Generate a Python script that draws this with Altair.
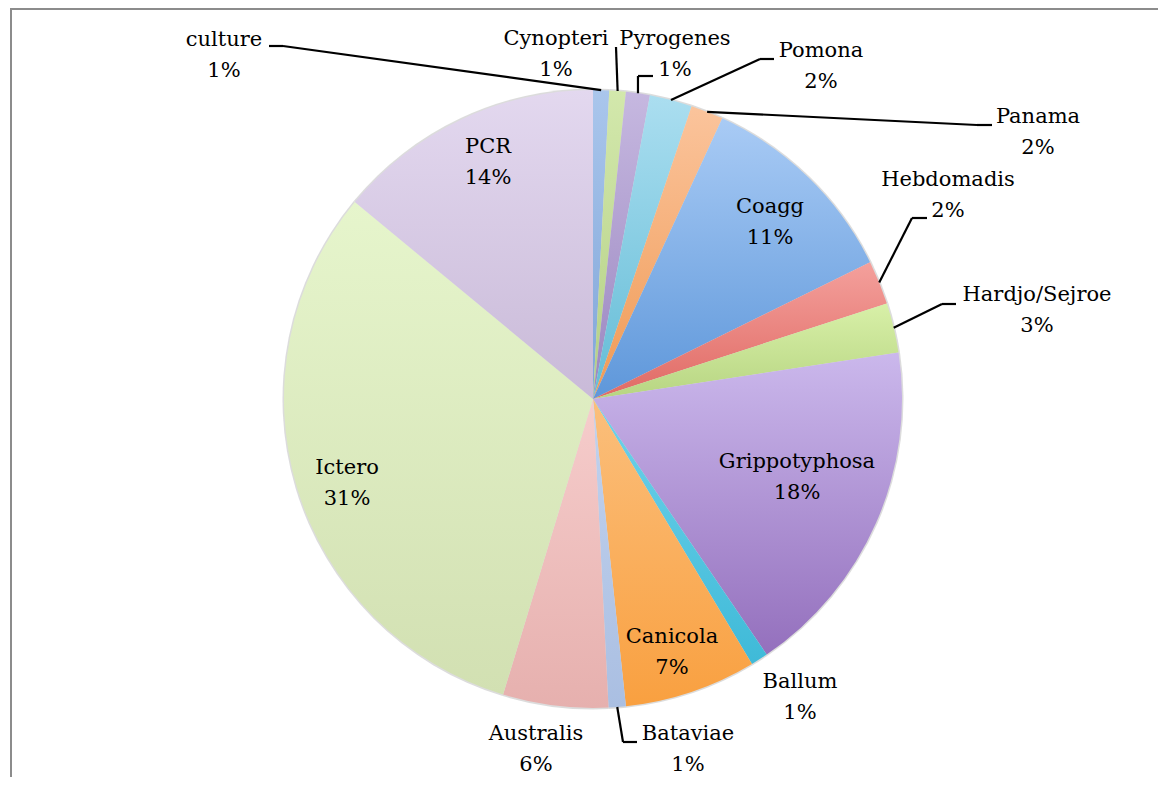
import altair as alt
import pandas as pd

# ---------------- data ----------------
categories = ["culture", "Cynopteri", "Pyrogenes", "Pomona", "Panama", "Coagg",
              "Hebdomadis", "Hardjo/Sejroe", "Grippotyphosa", "Ballum", "Canicola",
              "Bataviae", "Australis", "Ictero", "PCR"]
values = [0.84, 0.86, 1.25, 2.22, 1.70, 10.83, 2.3, 2.6, 17.9, 0.9, 6.9, 0.9, 5.5, 31.3, 14.0]
pct_labels = ["1%", "1%", "1%", "2%", "2%", "11%", "2%", "3%", "18%", "1%", "7%",
              "1%", "6%", "31%", "14%"]

# ---------------- style ----------------
top_colors = ["#aac6ec", "#d3e8ac", "#c6b8e0", "#abdef0", "#fbc49c", "#a9cbf5",
              "#f4a09c", "#d8f0a8", "#cbb8ec", "#6fd2ea", "#fbbf7c", "#c2d2ee",
              "#f6cdcc", "#e6f5cc", "#e3d8ef"]
bottom_colors = ["#7fa5d8", "#b3cf85", "#9a86c0", "#63bcd6", "#ef9a55", "#5e97da",
                 "#e06a64", "#b7d582", "#9470bd", "#3fbad8", "#f9a040", "#aabfe2",
                 "#e6b0ae", "#d2e0b2", "#c9bad8"]

# ---------------- layout (px, relative to pie centre) ----------------
W, H = 1150, 769
CX, CY, R = 585, 391, 309
label_dx = [-369, -37, 82, 228, 445, 177, 355, 444, 204, 207, 79, 95, -57, -246, -105]
label_dy = [-344, -345, -345, -333, -267, -177, -204, -89, 78, 298, 253, 350, 350, 84, -237]

has_leader = [True, True, True, True, True, False, True, True, False, False, False,
              True, False, False, False]
elbow_dx = [-310, 23, 45, 167, 384, 0, 319, 349, 0, 0, 0, 30, 0, 0, 0]
elbow_dy = [-353, -352, -323, -340, -274, 0, -181, -95, 0, 0, 0, 343, 0, 0, 0]
end_dx = [-324, 23, 60, 181, 399, 0, 334, 363, 0, 0, 0, 44, 0, 0, 0]
end_dy = [-353, -352, -323, -340, -274, 0, -181, -95, 0, 0, 0, 343, 0, 0, 0]

df = pd.DataFrame({
    "order": list(range(len(categories))),
    "name": categories,
    "value": values,
    "pct": pct_labels,
    "ldx": label_dx, "ldy": label_dy,
    "lead": has_leader,
    "edx": elbow_dx, "edy": elbow_dy,
    "ndx": end_dx, "ndy": end_dy,
})

base = (
    alt.Chart(df)
    .transform_window(cum="sum(value)", sort=[alt.SortField("order")], frame=[None, 0])
    .transform_joinaggregate(total="sum(value)")
    .transform_calculate(
        a0="(datum.cum - datum.value) / datum.total * 2 * PI",
        a1="datum.cum / datum.total * 2 * PI",
        am="(datum.cum - datum.value / 2) / datum.total * 2 * PI",
    )
)

theta_enc = dict(
    theta=alt.Theta("a0:Q", scale=None, stack=None),
    theta2=alt.Theta2("a1:Q"),
    x=alt.value(CX),
    y=alt.value(CY),
)

shadow = base.mark_arc(radius=R + 1.5, fill="#c4c4c4", opacity=0.6).encode(**theta_enc)

slices = []
for i, cat in enumerate(categories):
    grad = {
        "gradient": "linear", "x1": 0, "y1": 0, "x2": 0, "y2": 1,
        "stops": [{"offset": 0, "color": top_colors[i]},
                  {"offset": 1, "color": bottom_colors[i]}],
    }
    slices.append(
        base.transform_filter(alt.datum.order == i)
        .mark_arc(radius=R, fill=grad, strokeWidth=0)
        .encode(**theta_enc)
    )

leader_base = base.transform_filter("datum.lead").transform_calculate(
    sx=f"{CX} + {R} * sin(datum.am)",
    sy=f"{CY} - {R} * cos(datum.am)",
    ex=f"{CX} + datum.edx",
    ey=f"{CY} + datum.edy",
    nx=f"{CX} + datum.ndx",
    ny=f"{CY} + datum.ndy",
)
leader1 = leader_base.mark_rule(color="#000000", strokeWidth=2.2).encode(
    x=alt.X("sx:Q", scale=None, axis=None), y=alt.Y("sy:Q", scale=None, axis=None),
    x2="ex:Q", y2="ey:Q")
leader2 = leader_base.mark_rule(color="#000000", strokeWidth=2.2).encode(
    x=alt.X("ex:Q", scale=None, axis=None), y=alt.Y("ey:Q", scale=None, axis=None),
    x2="nx:Q", y2="ny:Q")

text_base = base.transform_calculate(tx=f"{CX} + datum.ldx", ty=f"{CY} + datum.ldy")
font = dict(font="DejaVu Serif", fontSize=21, color="#000000", align="center", baseline="middle")
text_name = text_base.mark_text(dy=-15.5, **font).encode(
    x=alt.X("tx:Q", scale=None, axis=None), y=alt.Y("ty:Q", scale=None, axis=None), text="name:N")
text_pct = text_base.mark_text(dy=15.5, **font).encode(
    x=alt.X("tx:Q", scale=None, axis=None), y=alt.Y("ty:Q", scale=None, axis=None), text="pct:N")

frame_data = alt.Data(values=[{"k": 1}])
frame_left = alt.Chart(frame_data).mark_rule(color="#8c8c8c", strokeWidth=2).encode(
    x=alt.value(3), y=alt.value(0), y2=alt.value(H))
frame_top = alt.Chart(frame_data).mark_rule(color="#8c8c8c", strokeWidth=2).encode(
    x=alt.value(2), x2=alt.value(W), y=alt.value(1))

chart = (
    alt.layer(frame_left, frame_top, shadow, *slices, leader1, leader2, text_name, text_pct)
    .properties(width=W, height=H, autosize="none", padding=0, background="white")
    .configure_view(stroke=None)
)

chart.save("out.html", embed_options={"renderer": "svg", "actions": False})
